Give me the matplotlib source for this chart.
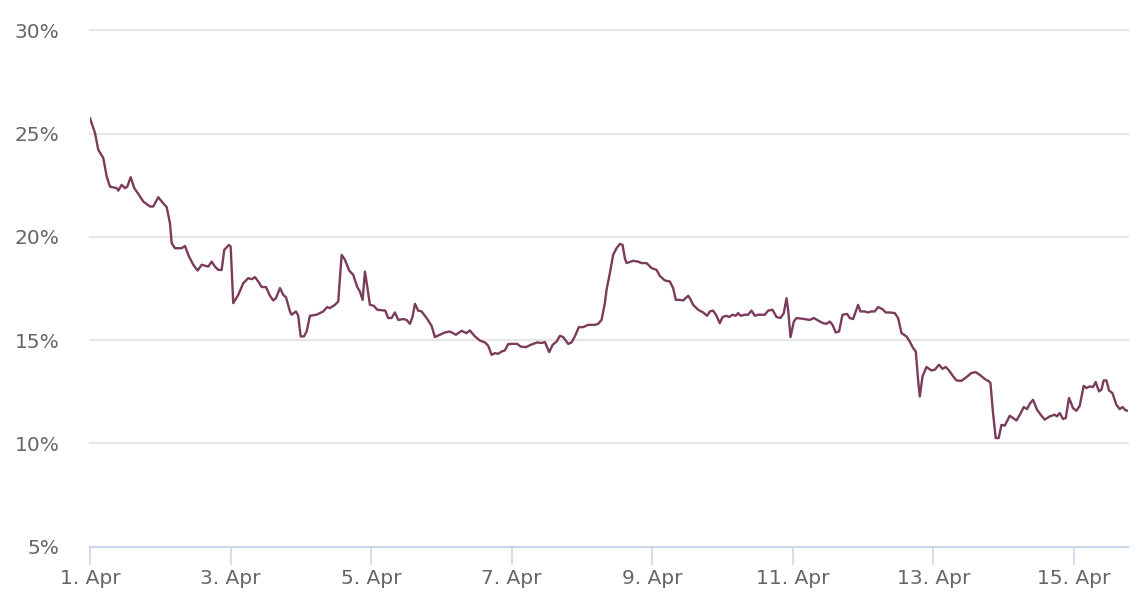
import matplotlib
matplotlib.use("Agg")
from matplotlib import pyplot as plt
import matplotlib.dates as mdates
import numpy as np
import pandas as pd

# hours since 1 Apr 00:00 and the rate in percent
hours = [0, 1.71, 2.83, 4.54, 5.70, 6.83, 9.12, 9.66, 10.82, 11.95, 12.73, 13.89, 15.12, 16.49,
         18.20, 20.48, 21.61, 23.32, 24.48, 26.19, 27.31, 27.89, 29.02, 31.31, 32.43, 33.80,
         35.27, 36.77, 38.13, 40.39, 41.55, 42.68, 43.80, 44.96, 45.85, 47.45, 48.03, 48.92,
         50.63, 52.34, 54.04, 55.20, 56.33, 57.46, 58.62, 60.09, 61.45, 62.58, 63.50, 64.87,
         65.99, 66.92, 68.28, 68.86, 70.33, 71.12, 71.93, 73.06, 73.98, 75.11, 77.40, 79.65,
         81.02, 81.94, 83.64, 84.77, 85.93, 87.06, 88.52, 89.89, 91.26, 92.18, 93.10, 93.89,
         94.67, 95.59, 96.96, 98.08, 100.82, 101.84, 103.0, 104.13, 105.25, 106.96, 108.12,
         109.25, 110.17, 110.96, 112.08, 113.24, 114.95, 116.66, 117.78, 119.49, 121.20,
         122.90, 124.95, 126.90, 128.60, 129.73, 131.44, 133.15, 134.85, 135.98, 137.14,
         138.27, 139.39, 140.55, 141.68, 142.81, 144.52, 145.88, 147.04, 148.85, 150.46,
         152.71, 154.21, 155.34, 156.81, 157.97, 159.33, 160.46, 161.59, 163.29, 164.45,
         165.58, 166.94, 168.41, 170.12, 172.40, 173.53, 174.69, 175.82, 176.40, 177.53,
         178.65, 179.81, 180.94, 181.86, 182.65, 183.23, 185.48, 187.19, 188.35, 190.05,
         191.76, 193.47, 194.60, 196.30, 198.01, 199.14, 200.06, 201.43, 202.55, 204.26,
         204.84, 205.97, 207.67, 209.38, 210.74, 211.67, 212.79, 213.95, 215.08, 216.0,
         217.37, 218.25, 219.41, 220.54, 221.33, 222.15, 223.62, 224.74, 225.90, 227.03,
         228.16, 230.44, 231.57, 233.07, 234.44, 235.80, 236.93, 237.85, 238.40, 239.22,
         240.35, 241.27, 243.52, 245.81, 247.17, 248.64, 250.35, 251.51, 252.64, 253.56,
         254.69, 255.81, 256.97, 258.54, 259.46, 260.59, 261.51, 262.30, 263.12, 264.59,
         265.71, 266.87, 268.0, 269.13, 270.63, 271.76, 273.12, 274.83, 275.96, 277.12,
         278.83, 279.95, 281.08, 282.0, 282.79, 283.37, 284.29, 285.65, 287.36, 288.49,
         289.95, 291.11, 292.24, 293.37, 294.53, 295.89, 297.60, 299.31, 301.01, 302.48,
         303.84, 305.55, 307.02, 307.5, 308.38, 309.31, 310.33, 311.25, 312.38, 314.09,
         315.21, 316.37, 317.74, 318.86, 319.99, 320.91, 322.04, 323.41, 324.91, 326.03,
         327.74, 329.45, 330.23, 331.15, 332.28, 333.20, 334.33, 335.69, 336.85, 337.98,
         339.34, 340.26, 341.39, 342.52, 343.44, 344.57, 345.39, 346.17, 347.10, 347.98,
         349.14, 350.51, 351.64, 352.56, 353.69, 354.47]
rate = [25.74, 25.03, 24.21, 23.82, 22.92, 22.43, 22.36, 22.24, 22.52, 22.36, 22.43, 22.89, 22.36, 22.08,
        21.71, 21.47, 21.47, 21.92, 21.71, 21.44, 20.66, 19.70, 19.45, 19.45, 19.56, 19.05,
        18.65, 18.37, 18.65, 18.56, 18.80, 18.56, 18.40, 18.40, 19.37, 19.61, 19.53, 16.79,
        17.19, 17.76, 18.00, 17.95, 18.05, 17.84, 17.57, 17.57, 17.15, 16.92, 17.03, 17.52,
        17.19, 17.08, 16.39, 16.23, 16.39, 16.18, 15.18, 15.18, 15.42, 16.18, 16.23, 16.39,
        16.60, 16.55, 16.71, 16.87, 19.13, 18.89, 18.37, 18.16, 17.57, 17.35, 16.95, 18.32,
        17.60, 16.71, 16.66, 16.47, 16.43, 16.07, 16.07, 16.34, 15.98, 16.02, 15.98,
        15.79, 16.14, 16.76, 16.43, 16.39, 16.07, 15.69, 15.15, 15.26, 15.37,
        15.42, 15.26, 15.45, 15.34, 15.47, 15.18, 14.98, 14.89, 14.73, 14.29,
        14.37, 14.34, 14.45, 14.50, 14.81, 14.82, 14.82, 14.69, 14.66, 14.77,
        14.89, 14.86, 14.91, 14.42, 14.77, 14.93, 15.21, 15.15, 14.82, 14.89,
        15.18, 15.63, 15.63, 15.74, 15.74, 15.79, 15.98, 16.79, 17.44, 18.24,
        19.13, 19.45, 19.66, 19.61, 18.97, 18.73, 18.84, 18.80, 18.73, 18.73,
        18.49, 18.40, 18.11, 17.89, 17.84, 17.52, 16.95, 16.95, 16.92, 17.15,
        17.03, 16.71, 16.47, 16.34, 16.18, 16.39, 16.43, 16.18, 15.82, 16.12,
        16.18, 16.12, 16.23, 16.18, 16.31, 16.18, 16.23, 16.23, 16.43, 16.18,
        16.23, 16.23, 16.43, 16.47, 16.12, 16.07, 16.31, 17.03, 16.47, 15.15,
        15.90, 16.07, 16.03, 15.98, 16.07, 15.95, 15.82, 15.79, 15.90, 15.74,
        15.37, 15.42, 16.23, 16.27, 16.07, 16.02, 16.39, 16.71, 16.39, 16.39,
        16.34, 16.39, 16.39, 16.60, 16.50, 16.34, 16.34, 16.31, 16.07, 15.34,
        15.18, 14.93, 14.62, 14.45, 13.08, 12.27, 13.24, 13.70, 13.53, 13.57,
        13.81, 13.61, 13.70, 13.53, 13.29, 13.05, 13.03, 13.21, 13.41, 13.45,
        13.32, 13.12, 13.00, 12.92, 11.47, 10.26, 10.26, 10.90, 10.86, 11.34,
        11.23, 11.11, 11.44, 11.76, 11.66, 11.92, 12.11, 11.63, 11.34, 11.15,
        11.31, 11.39, 11.31, 11.47, 11.18, 11.23, 12.20, 11.71, 11.58, 11.82,
        12.79, 12.68, 12.76, 12.73, 12.97, 12.52, 12.60, 13.05, 13.05, 12.56,
        12.44, 11.87, 11.66, 11.76, 11.60, 11.58]
yticks = [5, 10, 15, 20, 25, 30]

start = pd.Timestamp("2020-04-01")
times = start + pd.to_timedelta(hours, unit="h")

fig = plt.figure(figsize=(11.46, 6.03), dpi=100)
ax = fig.add_axes([90 / 1146, 1 - 546.7 / 603, (1128 - 90) / 1146, (546.7 - 30.3) / 603])

ax.plot(times, rate, color="#7b3b5b", linewidth=1.7, solid_joinstyle="round")

ax.set_ylim(5, 30)
ax.set_xlim(start, start + pd.Timedelta(hours=hours[-1]))
ax.set_yticks(yticks)
ax.set_yticklabels([f"{t}%" for t in yticks])
ax.grid(axis="y", color="#e6e6e6", linewidth=1.5)
for gl in ax.get_ygridlines():
    gl.set_clip_on(False)
ax.set_axisbelow(True)

ax.xaxis.set_major_locator(mdates.DayLocator(bymonthday=[1, 3, 5, 7, 9, 11, 13, 15]))
ax.xaxis.set_major_formatter(mdates.DateFormatter("%-d. %b"))

for s in ["top", "right", "left"]:
    ax.spines[s].set_visible(False)
ax.spines["bottom"].set_color("#ccd6eb")
ax.spines["bottom"].set_linewidth(1.5)
ax.spines["bottom"].set_zorder(3)

ax.tick_params(axis="y", length=0, pad=22, labelsize=14.5, labelcolor="#666666")
ax.tick_params(axis="x", length=13, width=1.2, color="#ccd6eb", pad=3,
               labelsize=14.5, labelcolor="#666666")

fig.savefig("out.png", dpi=100)
